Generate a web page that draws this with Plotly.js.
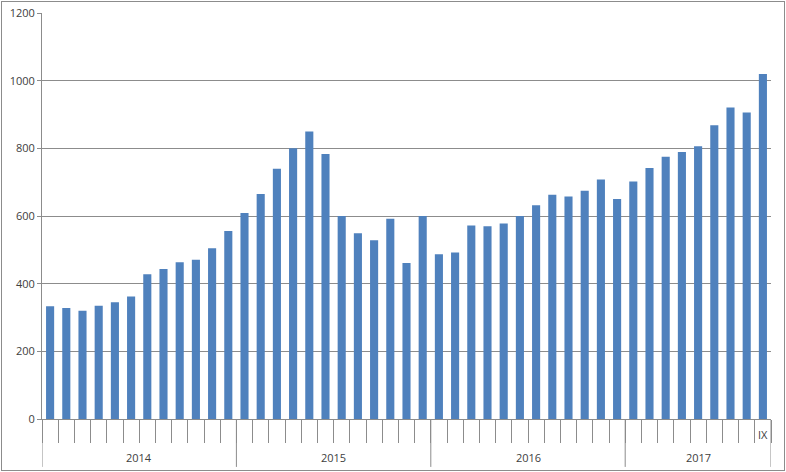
<!DOCTYPE html>
<html>
<head>
<meta charset="utf-8">
<script src="https://cdn.plot.ly/plotly-3.0.1.min.js"></script>
<style>
  body { margin: 0; background: #fff; }
  #wrap { position: relative; width: 786px; height: 472px; }
  #chart { width: 786px; height: 472px; }
  #frame {
    position: absolute; left: 1px; top: 1px; width: 782px; height: 468px;
    border: 1px solid #8c8c8c; pointer-events: none;
  }
</style>
</head>
<body>
<div id="wrap">
  <div id="chart"></div>
  <div id="frame"></div>
</div>
<script>
// ==========================================
// Monthly bar chart, 2014 - IX 2017
// ==========================================

const years = ["2014", "2015", "2016", "2017"];
const monthsPerYear = [12, 12, 12, 9];

// only the last month carries a label in the source
const monthLabels = [
  "", "", "", "", "", "", "", "", "", "", "", "",
  "", "", "", "", "", "", "", "", "", "", "", "",
  "", "", "", "", "", "", "", "", "", "", "", "",
  "", "", "", "", "", "", "", "", "IX",
];

const values2014 = [333, 328, 320, 335, 345, 362, 428, 443, 463, 471, 505, 556];
const values2015 = [609, 665, 740, 800, 850, 783, 600, 549, 528, 592, 461, 600];
const values2016 = [487, 492, 572, 570, 578, 600, 632, 663, 658, 675, 708, 650];
const values2017 = [702, 742, 775, 789, 806, 868, 921, 906, 1020];

const yTicks = [0, 200, 400, 600, 800, 1000, 1200];

// Build category keys (year + month index) so every bar gets its own slot
const categories = [];
years.forEach((yr, i) => {
  for (let m = 1; m <= monthsPerYear[i]; m++) {
    categories.push(yr + "-" + m);
  }
});
const values = [].concat(values2014, values2015, values2016, values2017);

const gray = "#8c8c8c";
const textColor = "#404040";
const font = { family: "Open Sans, Liberation Sans, sans-serif", size: 11, color: textColor };

const trace = {
  type: "bar",
  x: categories,
  y: values,
  marker: { color: "#4f81bd" },
  hoverinfo: "y",
};

// Year dividers and year labels under the month ticks
const shapes = [];
const annotations = [];
let start = 0;
shapes.push({
  type: "line", xref: "x", yref: "paper",
  x0: -0.5, x1: -0.5, y0: 0, y1: -0.118,
  line: { color: gray, width: 1 },
});
years.forEach((yr, i) => {
  const end = start + monthsPerYear[i];
  shapes.push({
    type: "line", xref: "x", yref: "paper",
    x0: end - 0.5, x1: end - 0.5, y0: 0, y1: -0.118,
    line: { color: gray, width: 1 },
  });
  annotations.push({
    xref: "x", yref: "paper",
    x: start + (monthsPerYear[i] - 1) / 2, y: -0.095,
    text: yr, showarrow: false, font: font,
    xanchor: "center", yanchor: "middle",
  });
  start = end;
});

// Month labels sit between the month ticks
monthLabels.forEach((lbl, i) => {
  if (!lbl) return;
  annotations.push({
    xref: "x", yref: "paper",
    x: i, y: -0.037,
    text: lbl, showarrow: false, font: font,
    xanchor: "center", yanchor: "middle",
  });
});

const layout = {
  width: 786,
  height: 472,
  margin: { l: 42, r: 15, t: 13, b: 53 },
  paper_bgcolor: "#ffffff",
  plot_bgcolor: "#ffffff",
  showlegend: false,
  bargap: 0.5,
  font: font,
  xaxis: {
    type: "category",
    range: [-0.5, categories.length - 0.5],
    tickmode: "array",
    tickvals: categories,
    ticktext: categories.map(() => ""),
    tickson: "boundaries",
    ticks: "outside",
    ticklen: 23,
    tickcolor: gray,
    tickwidth: 1,
    showticklabels: false,
    showgrid: false,
    showline: true,
    linecolor: gray,
    linewidth: 1,
    zeroline: false,
    fixedrange: true,
  },
  yaxis: {
    range: [0, 1200],
    tickmode: "array",
    tickvals: yTicks,
    ticktext: yTicks.map(String),
    ticks: "outside",
    ticklen: 4,
    tickcolor: gray,
    showgrid: true,
    gridcolor: gray,
    gridwidth: 1,
    showline: true,
    linecolor: gray,
    zeroline: false,
    tickfont: font,
    fixedrange: true,
  },
  shapes: shapes,
  annotations: annotations,
};

const config = { responsive: false, displayModeBar: false, staticPlot: true };
Plotly.newPlot("chart", [trace], layout, config);
</script>
</body>
</html>
